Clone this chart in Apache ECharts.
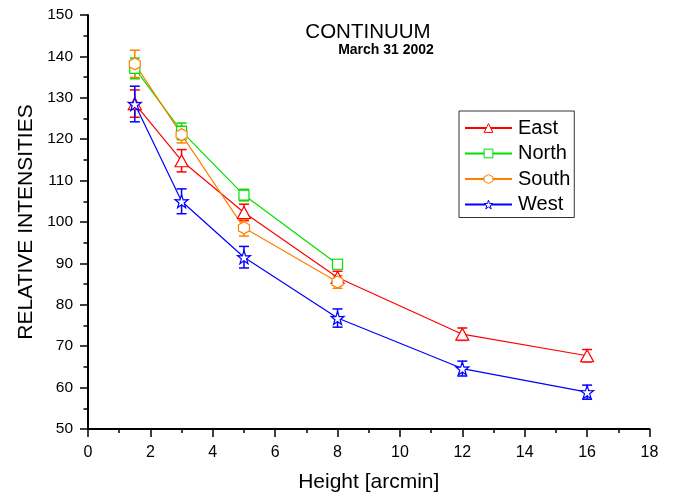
<!DOCTYPE html>
<html><head><meta charset="utf-8">
<script src="https://cdn.jsdelivr.net/npm/echarts@6/dist/echarts.min.js"></script>
<style>html,body{margin:0;padding:0;background:#fff}#c{width:675px;height:498px}</style>
</head><body><div id="c"></div>
<script>
const heights = [1.5, 3, 5, 8, 12, 16];
const eastVals = [128.6, 114.8, 102.3, 86.6, 72.9, 67.7];
const eastErr  = [3.3, 2.7, 2.0, 1.5, 1.5, 1.5];
const northVals = [137.1, 121.9, 106.5, 89.8];
const northErr  = [2.5, 2.0, 1.4, 1.1];
const southVals = [138.2, 121.1, 98.6, 85.5];
const southErr  = [3.3, 2.0, 2.0, 1.5];
const westVals = [128.5, 105.0, 91.5, 76.8, 64.6, 58.9];
const westErr  = [4.3, 3.0, 2.6, 2.2, 1.8, 1.7];

const FONT = 'Liberation Sans, Arial, sans-serif';
const hexPath = 'path://M50,0 L93.3,25 L93.3,75 L50,100 L6.7,75 L6.7,25 Z';
const starPath = 'path://M50,0 L61.8,35.4 L97.6,34.5 L69.1,56.9 L79.4,90.5 L50,70 L20.6,90.5 L30.9,56.9 L2.4,34.5 L38.2,35.4 Z';

const defs = [
  {name:'East', color:'#ff0000', vals:eastVals, err:eastErr, symbol:'triangle', size:[13,12]},
  {name:'North', color:'#00e000', vals:northVals, err:northErr, symbol:'rect', size:[10,10]},
  {name:'South', color:'#ff8000', vals:southVals, err:southErr, symbol:hexPath, size:[11,12]},
  {name:'West', color:'#0000ff', vals:westVals, err:westErr, symbol:starPath, size:[13,13]}
];

const series = [];
defs.forEach(d => {
  const pts = d.vals.map((v,i)=>[heights[i], v]);
  const bars = d.vals.map((v,i)=>[heights[i], v - d.err[i], v + d.err[i]]);
  series.push({
    type:'custom', name:d.name+'_err', coordinateSystem:'cartesian2d', silent:true,
    data: bars, z:2,
    renderItem:(params, api) => {
      const lo = api.coord([api.value(0), api.value(1)]);
      const hi = api.coord([api.value(0), api.value(2)]);
      const w = 5;
      const st = {stroke:d.color, lineWidth:1.5};
      return {type:'group', children:[
        {type:'line', shape:{x1:lo[0], y1:lo[1], x2:hi[0], y2:hi[1]}, style:st},
        {type:'line', shape:{x1:lo[0]-w, y1:lo[1], x2:lo[0]+w, y2:lo[1]}, style:st},
        {type:'line', shape:{x1:hi[0]-w, y1:hi[1], x2:hi[0]+w, y2:hi[1]}, style:st}
      ]};
    }
  });
  series.push({
    type:'line', name:d.name, data:pts, z:3,
    symbol:d.symbol, symbolSize:d.size, showAllSymbol:true,
    lineStyle:{color:d.color, width:1.2},
    itemStyle:{color:'#ffffff', borderColor:d.color, borderWidth:1.2},
    color:d.color,
    emphasis:{disabled:true}
  });
});

const chart = echarts.init(document.getElementById('c'), null, {renderer:'canvas'});
chart.setOption({
  animation:false,
  backgroundColor:'#ffffff',
  title:[
    {text:'CONTINUUM', left:368, top:22, textAlign:'center', padding:0,
     textStyle:{fontFamily:FONT, fontSize:20.5, fontWeight:'normal', color:'#000'}},
    {text:'March 31 2002', left:386, top:43, textAlign:'center', padding:0,
     textStyle:{fontFamily:FONT, fontSize:14, fontWeight:'bold', color:'#000'}}
  ],
  legend:{
    data:defs.map(d=>({name:d.name, itemStyle:{color:'#ffffff', borderColor:d.color, borderWidth:1}})),
    orient:'vertical', left:459, top:111,
    borderColor:'#333', borderWidth:1, padding:[7,4,3,5],
    itemWidth:47, itemHeight:11, itemGap:5.5,
    textStyle:{fontFamily:FONT, fontSize:20, color:'#000', padding:[0,0,0,1]}
  },
  grid:{left:88, right:25.5, top:15, bottom:68},
  xAxis:{
    type:'value', min:0, max:18, interval:2,
    name:'Height [arcmin]', nameLocation:'middle', nameGap:43,
    nameTextStyle:{fontFamily:FONT, fontSize:21, color:'#000'},
    axisLine:{show:true, lineStyle:{color:'#000', width:2}},
    axisTick:{show:true, inside:false, length:8, lineStyle:{color:'#000', width:1.5}},
    minorTick:{show:true, splitNumber:2, length:4, lineStyle:{color:'#000', width:1.5}},
    axisLabel:{fontFamily:FONT, fontSize:16, color:'#000', margin:16},
    splitLine:{show:false}
  },
  yAxis:{
    type:'value', min:50, max:150, interval:10,
    name:'RELATIVE INTENSITIES', nameLocation:'middle', nameGap:51,
    nameTextStyle:{fontFamily:FONT, fontSize:21, color:'#000'},
    axisLine:{show:true, lineStyle:{color:'#000', width:2}},
    axisTick:{show:true, inside:false, length:8, lineStyle:{color:'#000', width:1.5}},
    minorTick:{show:true, splitNumber:2, length:4.5, lineStyle:{color:'#000', width:1.5}},
    axisLabel:{fontFamily:FONT, fontSize:15.5, color:'#000', margin:15},
    splitLine:{show:false}
  },
  series:series
});
</script></body></html>
